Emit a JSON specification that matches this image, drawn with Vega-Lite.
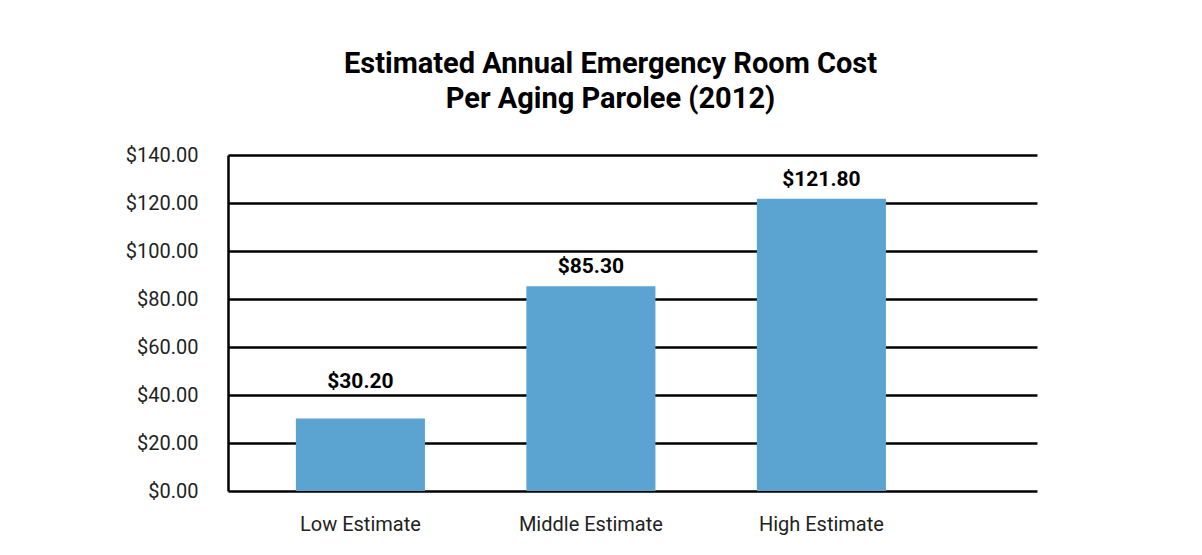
{
  "$schema": "https://vega.github.io/schema/vega-lite/v6.json",
  "autosize": {"type": "none"},
  "width": 809,
  "height": 336,
  "padding": {"left": 228, "top": 155, "right": 165, "bottom": 64},
  "background": "white",
  "title": {
    "text": ["Estimated Annual Emergency Room Cost", "Per Aging Parolee (2012)"],
    "font": "Roboto",
    "fontSize": 29,
    "fontWeight": "bold",
    "color": "#000000",
    "lineHeight": 35,
    "anchor": "middle",
    "frame": "group",
    "dx": -22,
    "offset": 31
  },
  "data": {
    "values": [
      {"category": "Low Estimate", "cost": 30.2, "label": "$30.20"},
      {"category": "Middle Estimate", "cost": 85.3, "label": "$85.30"},
      {"category": "High Estimate", "cost": 121.8, "label": "$121.80"}
    ]
  },
  "encoding": {
    "x": {
      "field": "category",
      "type": "nominal",
      "sort": null,
      "scale": {"paddingInner": 0.44, "paddingOuter": 0.475, "align": 0.31},
      "axis": {
        "title": null,
        "domain": false,
        "ticks": false,
        "labelAngle": 0,
        "labelFont": "Roboto",
        "labelFontSize": 20,
        "labelColor": "#222222",
        "labelPadding": 23
      }
    },
    "y": {
      "field": "cost",
      "type": "quantitative",
      "scale": {"domain": [0, 140]},
      "axis": {
        "title": null,
        "values": [0, 20, 40, 60, 80, 100, 120, 140],
        "format": "$,.2f",
        "ticks": false,
        "domain": true,
        "domainColor": "#000000",
        "domainWidth": 2.5,
        "grid": true,
        "gridColor": "#000000",
        "gridWidth": 2.5,
        "gridOpacity": 1,
        "labelFont": "Roboto",
        "labelFontSize": 20,
        "labelColor": "#222222",
        "labelPadding": 30
      }
    }
  },
  "layer": [
    {"mark": {"type": "bar", "color": "#5BA4D2"}},
    {
      "transform": [{"filter": "datum.cost >= 50"}],
      "mark": {
        "type": "text",
        "font": "Roboto",
        "fontSize": 21,
        "fontWeight": "bold",
        "color": "#000000",
        "baseline": "alphabetic",
        "dy": -13
      },
      "encoding": {"text": {"field": "label"}}
    },
    {
      "transform": [{"filter": "datum.cost < 50"}],
      "mark": {
        "type": "text",
        "font": "Roboto",
        "fontSize": 21,
        "fontWeight": "bold",
        "color": "#000000",
        "baseline": "alphabetic",
        "dy": -31
      },
      "encoding": {"text": {"field": "label"}}
    }
  ],
  "config": {"view": {"stroke": null}}
}
